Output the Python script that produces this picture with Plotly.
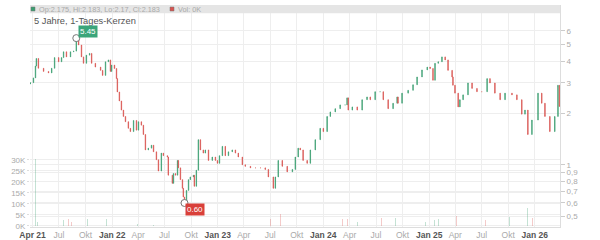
import plotly.graph_objects as go
import math

# ---- price data, close values ----
dates = [
"2021-03-24","2021-04-04","2021-04-11","2021-04-14","2021-04-21","2021-05-09","2021-05-26","2021-06-06","2021-06-16","2021-06-30",
"2021-07-10","2021-07-17","2021-07-27","2021-08-10","2021-08-21","2021-08-30","2021-09-07","2021-09-17","2021-09-24","2021-10-04",
"2021-10-15","2021-10-22","2021-11-04","2021-11-22","2021-11-29","2021-12-09","2021-12-19","2021-12-26","2021-12-30","2022-01-09",
"2022-01-16","2022-01-19","2022-01-26","2022-02-02","2022-02-09","2022-02-16","2022-02-26","2022-03-05","2022-03-16","2022-03-26",
"2022-04-02","2022-04-12","2022-04-19","2022-04-26","2022-05-06","2022-05-17","2022-05-24","2022-06-03","2022-06-10","2022-06-20",
"2022-06-27","2022-07-11","2022-07-14","2022-07-28","2022-08-01","2022-08-08","2022-08-15","2022-08-18","2022-08-25","2022-09-01",
"2022-09-04","2022-09-08","2022-09-15","2022-09-22","2022-09-28","2022-10-09","2022-10-12","2022-10-19","2022-10-26","2022-11-02",
"2022-11-12","2022-11-19","2022-11-30","2022-12-13","2022-12-24","2022-12-31","2023-01-07","2023-01-17","2023-01-27","2023-02-07",
"2023-02-20","2023-03-03","2023-03-13","2023-03-27","2023-04-06","2023-04-24","2023-05-11","2023-05-28","2023-06-14","2023-06-25",
"2023-07-12","2023-07-19","2023-07-29","2023-08-12","2023-08-29","2023-09-16","2023-09-26","2023-10-06","2023-10-13","2023-10-23",
"2023-11-06","2023-11-17","2023-12-04","2023-12-21","2024-01-01","2024-01-14","2024-01-25","2024-02-11","2024-02-28","2024-03-16",
"2024-03-23","2024-03-27","2024-04-10","2024-04-27","2024-05-14","2024-05-31","2024-06-11","2024-06-28","2024-07-15","2024-07-26",
"2024-08-12","2024-08-29","2024-09-12","2024-09-15","2024-09-29","2024-10-20","2024-11-06","2024-11-20","2024-12-07","2024-12-25",
"2025-01-04","2025-01-14","2025-01-21","2025-02-01","2025-02-14","2025-02-25","2025-03-07","2025-03-21","2025-03-24","2025-03-31",
"2025-04-11","2025-04-17","2025-04-28","2025-05-15","2025-05-29","2025-06-15","2025-07-02","2025-07-20","2025-07-30","2025-08-16",
"2025-09-03","2025-09-20","2025-10-14","2025-10-31","2025-11-17","2025-11-28","2025-12-08","2025-12-22","2026-01-12","2026-01-25",
"2026-02-05","2026-02-22","2026-03-11","2026-03-22","2026-03-27",
]
closes = [
3.00,3.20,3.75,4.15,3.64,3.49,3.42,3.64,4.20,3.97,
4.20,4.54,4.24,4.54,4.58,5.45,4.97,4.24,3.89,4.34,
4.44,3.89,3.70,3.54,3.31,3.97,4.07,3.49,3.80,3.63,
3.17,2.65,2.35,2.08,1.91,1.78,1.63,1.56,1.81,1.59,
1.78,1.70,1.50,1.22,1.25,1.30,1.19,1.07,0.92,1.17,
1.13,1.11,0.87,0.78,0.89,0.87,1.06,0.96,0.82,0.73,
0.65,0.60,0.71,0.82,0.85,0.87,0.75,0.93,1.40,1.22,
1.17,1.22,1.06,1.11,1.06,1.02,1.13,1.28,1.13,1.19,
1.22,1.17,1.11,1.00,0.98,0.96,0.96,0.96,0.94,0.85,
0.73,0.85,1.06,0.98,0.91,0.94,1.11,1.25,1.22,1.06,
1.02,1.22,1.40,1.63,1.56,1.91,2.03,2.12,2.23,2.23,
2.45,2.08,2.17,2.08,2.39,2.48,2.39,2.66,2.66,2.39,
2.12,2.28,2.48,2.28,2.61,2.71,2.92,3.24,3.56,3.70,
3.63,3.10,3.89,3.97,4.24,4.07,3.54,3.24,2.90,2.61,
2.17,2.39,2.55,2.99,2.78,2.66,2.66,3.17,2.99,2.61,
2.39,2.61,2.55,2.39,1.97,2.08,1.50,1.82,2.61,2.28,
1.91,1.56,1.91,2.90,2.183,
]
first_open = 2.95

# ---- volume data ----
vol_dates = ["2021-04-11","2021-04-18","2021-07-17","2021-08-03","2021-08-14","2021-10-08","2021-12-12","2022-03-29",
             "2022-05-24","2023-07-02","2023-08-05","2024-03-06","2024-03-23","2024-04-27","2024-07-19","2024-09-05",
             "2024-12-07","2024-12-18","2025-01-18","2025-02-01","2025-03-07","2025-04-04","2025-07-13","2025-10-04",
             "2025-12-08","2025-12-25","2026-01-12","2026-01-29","2026-02-12","2026-03-15"]
vol_values = [30500,2000,2500,3000,2000,3000,3000,800,
              500,3000,5500,3000,3000,2000,3500,3500,
              3500,2000,2500,3000,3000,4500,2500,4000,
              8000,3500,3500,1500,1500,5000]
vol_up = [1,1,1,0,0,1,1,1,
          1,0,0,0,0,1,0,1,
          1,1,1,1,0,0,0,1,
          1,0,0,0,0,1]

tick_dates = ["2021-04-01","2021-07-01","2021-10-01","2022-01-01","2022-04-01","2022-07-01","2022-10-01",
              "2023-01-01","2023-04-01","2023-07-01","2023-10-01","2024-01-01","2024-04-01","2024-07-01",
              "2024-10-01","2025-01-01","2025-04-01","2025-07-01","2025-10-01","2026-01-01"]
tick_labels = ["Apr 21","Jul","Okt","Jan 22","Apr","Jul","Okt","Jan 23","Apr","Jul","Okt","Jan 24",
               "Apr","Jul","Okt","Jan 25","Apr","Jul","Okt","Jan 26"]
price_ticks = [0.5,0.6,0.7,0.8,0.9,1,2,3,4,5,6]
price_labels = ["0,5","0,6","0,7","0,8","0,9","1","2","3","4","5","6"]
vol_ticks = [0,5000,10000,15000,20000,25000,30000]
vol_labels = ["0K","5K","10K","15K","20K","25K","30K"]

GREEN = "#3a9e70"
RED = "#d9534f"
FONT = "Liberation Sans, Arial, sans-serif"

opens = [first_open] + closes[:-1]
highs = [max(o, c) for o, c in zip(opens, closes)]
lows = [min(o, c) for o, c in zip(opens, closes)]

fig = go.Figure()
fig.add_trace(go.Bar(
    x=vol_dates, y=vol_values, yaxis="y", width=3 * 86400000,
    marker=dict(color=["rgba(58,158,112,0.3)" if u else "rgba(217,83,79,0.3)" for u in vol_up],
                line=dict(width=0)),
    showlegend=False, hoverinfo="skip"))
fig.add_trace(go.Candlestick(
    x=dates, open=opens, high=highs, low=lows, close=closes, yaxis="y2",
    increasing=dict(line=dict(color=GREEN, width=0.7), fillcolor=GREEN),
    decreasing=dict(line=dict(color=RED, width=0.7), fillcolor=RED),
    whiskerwidth=0, showlegend=False))

# extreme markers
fig.add_trace(go.Scatter(x=["2021-08-30", "2022-09-08"], y=[5.45, 0.60], yaxis="y2", mode="markers",
                         marker=dict(size=7, color="white", line=dict(color="#777", width=1)),
                         showlegend=False, hoverinfo="skip"))

ticktext = []
for t in tick_labels:
    if " " in t:
        ticktext.append("<b><span style='color:#555'>" + t + "</span></b>")
    else:
        ticktext.append(t)

fig.update_layout(
    width=600, height=240,
    margin=dict(l=30, r=40, t=5, b=13, pad=0, autoexpand=False),
    paper_bgcolor="white", plot_bgcolor="white",
    font=dict(family=FONT, size=9, color="#aaa"),
    bargap=0,
    xaxis=dict(type="date", range=["2021-03-23", "2026-03-29"], tickvals=tick_dates, ticktext=ticktext,
               showgrid=True, gridcolor="#eeeeee", gridwidth=1, rangeslider=dict(visible=False),
               ticks="", showline=True, linecolor="#ddd", ticklabelstandoff=0,
               tickfont=dict(size=8.5, color="#aaa"), zeroline=False, automargin=False),
    yaxis=dict(side="left", range=[-500, 100500], tickvals=vol_ticks, ticktext=vol_labels,
               showgrid=True, gridcolor="#eeeeee", ticks="outside", ticklen=2, tickcolor="#ddd",
               tickfont=dict(size=8, color="#aaa"), zeroline=False, showline=False, automargin=False),
    yaxis2=dict(side="right", overlaying="y", type="log", range=[math.log10(0.435), math.log10(8.49)],
                tickvals=price_ticks, ticktext=price_labels, showgrid=True, gridcolor="#eeeeee",
                ticks="outside", ticklen=4, tickcolor="#ccc", showline=True, linecolor="#ddd",
                tickfont=dict(size=8, color="#aaa"), zeroline=False, automargin=False),
    shapes=[
        dict(type="rect", xref="paper", yref="paper", x0=0, x1=1, y0=(227 - 13.3) / 222, y1=1,
             fillcolor="#e5e5e5", line=dict(width=0), layer="above"),
        dict(type="rect", xref="paper", yref="paper", x0=1 / 530, x1=5 / 530, y0=(227 - 11) / 222,
             y1=(227 - 7) / 222, fillcolor=GREEN, line=dict(color="#777", width=0.5), layer="above"),
        dict(type="rect", xref="paper", yref="paper", x0=140 / 530, x1=144 / 530, y0=(227 - 11) / 222,
             y1=(227 - 7) / 222, fillcolor=RED, line=dict(color="#777", width=0.5), layer="above"),
    ],
    annotations=[
        dict(xref="paper", yref="paper", x=7 / 530, y=(227 - 9.2) / 222, xanchor="left", yanchor="middle",
             text="Op:2.175, Hi:2.183, Lo:2.17, Cl:2.183", showarrow=False,
             font=dict(size=7.3, color="#aaa", family=FONT)),
        dict(xref="paper", yref="paper", x=146 / 530, y=(227 - 9.2) / 222, xanchor="left", yanchor="middle",
             text="Vol: 0K", showarrow=False, font=dict(size=7.3, color="#aaa", family=FONT)),
        dict(xref="paper", yref="paper", x=2 / 530, y=(227 - 21) / 222, xanchor="left", yanchor="middle",
             text="5 Jahre, 1-Tages-Kerzen", showarrow=False, font=dict(size=9.3, color="#555", family=FONT)),
        dict(xref="x", yref="y2", x="2021-08-30", y=math.log10(5.45), xanchor="left", yanchor="middle",
             xshift=2, yshift=7, text="5.45", showarrow=False, bgcolor="#3aa57a", borderpad=1,
             font=dict(size=8, color="white", family=FONT)),
        dict(xref="x", yref="y2", x="2022-09-08", y=math.log10(0.60), xanchor="left", yanchor="middle",
             xshift=1, yshift=-7, text="0.60", showarrow=False, bgcolor="#d9403a", borderpad=1,
             font=dict(size=8, color="white", family=FONT)),
    ],
)

fig.write_html("out.html")
